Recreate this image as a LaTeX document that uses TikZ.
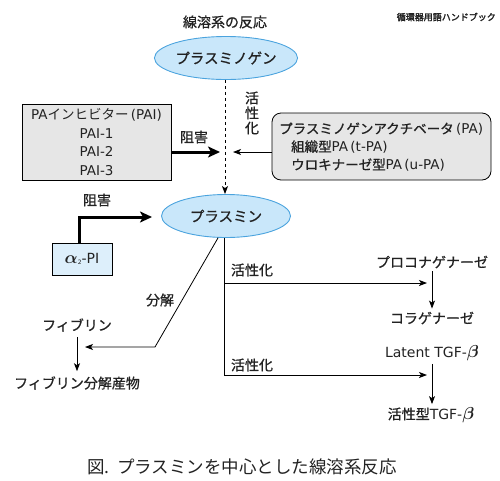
\documentclass[tikz,border=0pt]{standalone}
\usepackage{amsmath}
\usepackage{fontspec}
\setmainfont{Noto Sans CJK JP}
\newfontfamily\jpb[FakeBold=2.5]{Noto Sans CJK JP}
\newfontfamily\jpm[FakeBold=0.8]{Noto Sans CJK JP}
\newfontfamily\latf{DejaVu Sans}
\usetikzlibrary{shapes.geometric,arrows.meta}
\definecolor{txt}{HTML}{222222}
\definecolor{ellfill}{HTML}{C9E7FA}
\definecolor{elldraw}{HTML}{4AA3DE}
\definecolor{boxgray}{HTML}{E6E6E6}
\definecolor{boxblue}{HTML}{DDEFFB}
\tikzset{
  ell/.style={ellipse, draw=elldraw, fill=ellfill, line width=0.9pt, minimum width=129pt, minimum height=43pt, inner sep=0pt, font=\fontsize{14.5}{15}\selectfont\jpm, text=txt},
  lbl/.style={font=\fontsize{14}{15}\selectfont\jpm, text=txt, inner sep=1pt},
  graybox/.style={draw=black, fill=boxgray, line width=0.8pt, text=txt, font=\fontsize{13.5}{18.5}\selectfont},
  arr/.style={-{Stealth[length=8pt,width=6pt,inset=2pt]}, line width=0.8pt},
  thickarr/.style={-{Stealth[length=12pt,width=11pt,inset=3pt]}, line width=3pt},
}
\begin{document}
\begin{tikzpicture}[x=1pt,y=-1pt]
\useasboundingbox (0,0) rectangle (500,480);
% header texts
\node[lbl] (title) at (225,22) {線溶系の反応};
\node[font=\fontsize{9}{10}\selectfont\jpb, text=txt, inner sep=0pt, anchor=east] (hb) at (496,17) {循環器用語ハンドブック};
% ellipses
\node[ell] (plg) at (226,58) {プラスミノゲン};
\node[ell] (pl) at (226,216) {プラスミン};
\draw[arr, dashed] (plg.south -| 225,0) -- (pl.north -| 225,0);
\node[lbl, align=center, font=\fontsize{14}{15}\selectfont\jpm] (act0) at (252,113) {活\\性\\化};
% PAI box
\node[graybox, minimum width=149pt, minimum height=76pt, align=center] (pai) at (96.5,142) {{\latf PA}インヒビター{\latf\,(PAI)}\\{\latf PAI-1}\\{\latf PAI-2}\\{\latf PAI-3}};
\coordinate (t1) at (220,152);
\draw[thickarr] (pai.east |- t1) -- (t1);
\node[lbl] (inh1) at (194,137) {阻害};
% PA box
\node[graybox, rounded corners=9pt, minimum width=219pt, minimum height=67pt] (pa) at (381.5,146.5) {};
\node[anchor=west, align=left, inner sep=0pt, text=txt, font=\fontsize{13.5}{18}\selectfont] (patext) at (279,147) {{\jpm プラスミノゲンアクチベータ}{\latf\,(PA)}\\\hspace*{12pt}{\jpm 組織型}{\latf PA\,(t-PA)}\\\hspace*{12pt}{\jpm ウロキナーゼ型}{\latf PA\,(u-PA)}};
\coordinate (t2) at (233,152);
\draw[arr] (pa.west |- t2) -- (t2);
% alpha2-PI box
\node[draw=black, fill=boxblue, line width=0.8pt, minimum width=60pt, minimum height=32pt, text=txt, font=\fontsize{14}{15}\selectfont\latf] (api) at (82,259) {{\fontsize{16}{16}\selectfont$\boldsymbol{\alpha}$}\raisebox{-1pt}{\fontsize{6}{6}\selectfont 2}-PI};
\coordinate (a1) at (79,217);
\coordinate (a2) at (152,217);
\draw[thickarr] (a1 |- api.north) -- (a1) -- (a2);
\node[lbl] (inh2) at (97,200) {阻害};
% degradation branch
\coordinate (k1) at (155,347);
\coordinate (k2) at (85,347);
\draw[arr] (pl.-110) -- (k1) -- (k2);
\node[lbl] (deg) at (160,300) {分解};
\node[lbl] (fib) at (77,325) {フィブリン};
\node[lbl] (fdp) at (77,383) {フィブリン分解産物};
\draw[arr] ([yshift=-4pt]fib.south) -- ([yshift=4pt]fdp.north);
% activation branches
\coordinate (v) at (224,375);
\coordinate (h1) at (427,283);
\coordinate (h2) at (427,375);
\draw[line width=0.8pt] (v |- pl.south) -- (v);
\draw[arr] (v |- h1) -- (h1);
\draw[arr] (v) -- (h2);
\node[lbl] (act1) at (252,270) {活性化};
\node[lbl] (act2) at (252,365) {活性化};
\node[lbl] (proco) at (432,262) {プロコナゲナーゼ};
\node[lbl] (colla) at (432,318) {コラゲナーゼ};
\draw[arr] ([yshift=-2pt]proco.south) -- ([yshift=2pt]colla.north);
\node[lbl, font=\fontsize{14}{15}\selectfont\latf] (lat) at (432,353) {Latent TGF-{\fontsize{16}{16}\selectfont$\boldsymbol{\beta}$}};
\node[lbl, font=\fontsize{14}{15}\selectfont\latf] (atgf) at (431,415) {{\jpm 活性型}TGF-{\fontsize{16}{16}\selectfont$\boldsymbol{\beta}$}};
\draw[arr] ([yshift=-2pt]lat.south -| colla.center) -- ([yshift=2pt]atgf.north -| colla.center);
% caption
\node[text=txt, font=\fontsize{17.5}{18}\selectfont, inner sep=0pt] (cap) at (242,467) {図.\ \ プラスミンを中心とした線溶系反応};
\end{tikzpicture}
\end{document}
